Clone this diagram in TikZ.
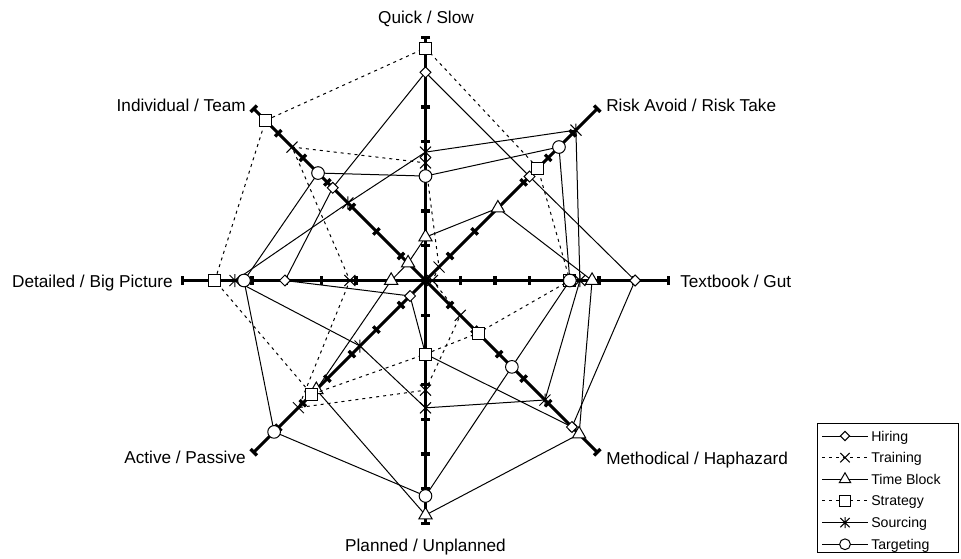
\documentclass[tikz,border=0pt]{standalone}
\usepackage{fontspec}
\setmainfont{Liberation Sans}
\usetikzlibrary{shapes.geometric}
\newcommand\mkser[9]{%
 \coordinate (#1-0) at ({425.5},{280.5-#2*34.7});
 \coordinate (#1-1) at ({425.5+#3*24.537},{280.5-#3*24.537});
 \coordinate (#1-2) at ({425.5+#4*34.7},{280.5});
 \coordinate (#1-3) at ({425.5+#5*24.537},{280.5+#5*24.537});
 \coordinate (#1-4) at ({425.5},{280.5+#6*34.7});
 \coordinate (#1-5) at ({425.5-#7*24.537},{280.5+#7*24.537});
 \coordinate (#1-6) at ({425.5-#8*34.7},{280.5});
 \coordinate (#1-7) at ({425.5-#9*24.537},{280.5-#9*24.537});
}
\begin{document}
\begin{tikzpicture}[x=0.75pt,y=-0.75pt,
  ax/.style={line width=2.25pt},
  tk/.style={line width=2.5pt},
  ser/.style={line width=0.75pt,line join=miter},
  dotser/.style={ser,dash pattern=on 2.25pt off 3pt},
  mk/.style={draw,fill=white,line width=0.75pt,inner sep=0pt},
  dia/.style={mk,diamond,minimum width=8.5pt,minimum height=8.5pt},
  sq/.style={mk,rectangle,minimum size=9pt},
  circ/.style={mk,circle,minimum size=9.5pt},
  tri/.style={mk,regular polygon,regular polygon sides=3,minimum size=11.5pt},
  lbl/.style={inner sep=0pt,font=\fontsize{12.9}{15}\selectfont},
  leg/.style={inner sep=0pt,font=\fontsize{10.6}{13}\selectfont},
  xm/.pic={\draw[line width=0.75pt] (-5.5,-5.5)--(5.5,5.5) (-5.5,5.5)--(5.5,-5.5);},
  sm/.pic={\draw[line width=0.75pt] (-5.5,-5.5)--(5.5,5.5) (-5.5,5.5)--(5.5,-5.5) (0,-6.5)--(0,6.5);},
]
\useasboundingbox (0,0) rectangle (961,558);
\coordinate (O) at (425.5,280.5);
% axes
\foreach \k in {0,...,7}{
  \coordinate (E\k) at ({425.5+242.9*sin(\k*45)},{280.5-242.9*cos(\k*45)});
  \draw[ax] (O) -- (E\k);
  \foreach \j in {1,...,7}{
    \draw[tk] ({425.5+\j*34.7*sin(\k*45)+4.5*cos(\k*45)},{280.5-\j*34.7*cos(\k*45)+4.5*sin(\k*45)})
      -- ({425.5+\j*34.7*sin(\k*45)-4.5*cos(\k*45)},{280.5-\j*34.7*cos(\k*45)-4.5*sin(\k*45)});
  }
}
% series data
\mkser{H}{6.0}{4.24}{6.04}{5.97}{2.12}{0.63}{4.05}{3.78}
\mkser{T}{3.39}{0.55}{0.2}{1.42}{3.16}{5.18}{2.18}{5.44}
\mkser{B}{1.25}{2.95}{4.8}{6.26}{6.76}{4.45}{0.99}{0.71}
\mkser{S}{6.7}{4.58}{4.16}{2.14}{2.12}{4.64}{6.07}{6.52}
\mkser{X}{3.7}{6.13}{4.45}{4.87}{3.67}{2.67}{5.49}{3.16}
\mkser{C}{3.01}{5.44}{4.16}{3.52}{6.21}{6.17}{5.23}{4.38}
% Hiring
\draw[ser] (H-0)--(H-1)--(H-2)--(H-3)--(H-4)--(H-5)--(H-6)--(H-7)--cycle;
\foreach \k in {0,...,7}{\node[dia] (Hm\k) at (H-\k) {};}
% Training
\draw[dotser] (T-0)--(T-1)--(T-2)--(T-3)--(T-4)--(T-5)--(T-6)--(T-7)--cycle;
\foreach \k in {0,...,7}{\pic at (T-\k) {xm};}
% Time Block
\draw[ser] (B-0)--(B-1)--(B-2)--(B-3)--(B-4)--(B-5)--(B-6)--(B-7)--cycle;
\foreach \k in {0,...,7}{\node[tri] (Bm\k) at (B-\k) {};}
% Strategy
\draw[dotser] (S-0)--(S-1)--(S-2)--(S-3)--(S-4)--(S-5)--(S-6)--(S-7)--cycle;
\foreach \k in {0,...,7}{\node[sq] (Sm\k) at (S-\k) {};}
% Sourcing
\draw[ser] (X-0)--(X-1)--(X-2)--(X-3)--(X-4)--(X-5)--(X-6)--(X-7)--cycle;
\foreach \k in {0,...,7}{\pic at (X-\k) {sm};}
% Targeting
\draw[ser] (C-0)--(C-1)--(C-2)--(C-3)--(C-4)--(C-5)--(C-6)--(C-7)--cycle;
\foreach \k in {0,...,7}{\node[circ] (Cm\k) at (C-\k) {};}
% axis labels
\node[lbl,anchor=base] (L0) at (426,23.5) {Quick / Slow};
\node[lbl,anchor=base west] (L1) at (606,111.5) {Risk Avoid / Risk Take};
\node[lbl,anchor=base west] (L2) at (680,287) {Textbook / Gut};
\node[lbl,anchor=base west] (L3) at (606,464) {Methodical / Haphazard};
\node[lbl,anchor=base] (L4) at (425.5,551.6) {Planned / Unplanned};
\node[lbl,anchor=base east] (L5) at (246,463.3) {Active / Passive};
\node[lbl,anchor=base east] (L6) at (173,287) {Detailed / Big Picture};
\node[lbl,anchor=base east] (L7) at (246,111.7) {Individual / Team};
% legend
\draw[line width=0.75pt] (817,423) rectangle (958,552);
\foreach \i/\nm/\st in {0/Hiring/ser,1/Training/dotser,2/Time Block/ser,3/Strategy/dotser,4/Sourcing/ser,5/Targeting/ser}{
  \draw[\st] (822,{436+21.65*\i}) -- (868,{436+21.65*\i});
  \node[leg,anchor=base west] (G\i) at (871,{441+21.65*\i}) {\nm};
}
\node[dia,scale=0.85] (Gm0) at (845,436) {};
\pic[scale=0.85] at (845,457.65) {xm};
\node[tri,scale=0.85] (Gm2) at (845,479.3) {};
\node[sq,scale=0.85] (Gm3) at (845,500.95) {};
\pic[scale=0.85] at (845,522.6) {sm};
\node[circ,scale=0.85] (Gm5) at (845,544.25) {};
\end{tikzpicture}
\end{document}
